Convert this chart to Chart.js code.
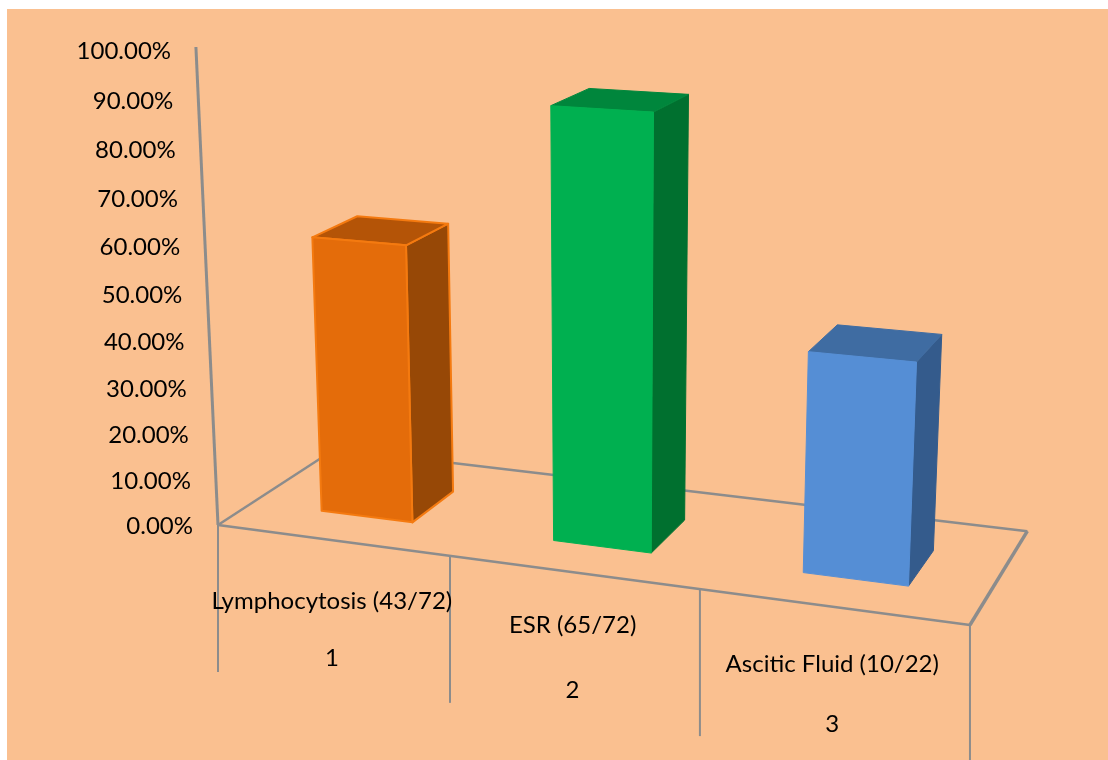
<!DOCTYPE html>
<html>
<head>
<meta charset="utf-8">
<title>Chart</title>
<script src="https://cdn.jsdelivr.net/npm/chart.js@4"></script>
<style>
  html, body { margin: 0; padding: 0; background: #fff; overflow: hidden; }
  #panel { position: absolute; left: 7px; top: 9px; right: 0; bottom: 0; background: #FAC090; }
  #wrap { position: absolute; left: 0; top: 0; width: 1108px; height: 760px; }
</style>
</head>
<body>
<div id="panel"></div>
<div id="wrap"><canvas id="chart"></canvas></div>
<script>
// ===== Data =====
const categories = ['Lymphocytosis (43/72)', 'ESR (65/72)', 'Ascitic Fluid (10/22)'];
const groupNumbers = ['1', '2', '3'];
const percentValues = [59.72, 90.28, 45.45];
const tickLabels = ['0.00%', '10.00%', '20.00%', '30.00%', '40.00%', '50.00%', '60.00%', '70.00%', '80.00%', '90.00%', '100.00%'];

const frontColors = ['#E46C0A', '#00B050', '#558ED5'];
const edgeColors = ['#F47A10', null, null];   // only the orange box has a visible outline
const topColors = ['#B45407', '#00863C', '#3F6CA2'];
const sideColors = ['#974806', '#00702F', '#345B8C'];

// ===== Perspective =====
// u runs along the categories, v into the floor, h up the value axis (all 0..1)
function project(u, v, h) {
  const w = 1 - 0.1077 * u + 0.095 * v - 0.0533 * h;
  return {
    x: (218 + 647.5 * u + 148.8 * v - 32.4 * h) / w,
    y: (525 + 32.7 * u - 33.3 * v - 477.7 * h) / w
  };
}

const BAR_FRONT = 0.285, BAR_BACK = 0.67;  // bar depth on the floor
const BAR_SHIFT = 0.0025;                  // boxes sit a touch right of the category centre
const DIVIDER_DROP = 147;                  // how far the category dividers hang down
const LABEL_DROP = [61, 53, 58];
const NUMBER_DROP = 118;
const FONT = '"Lato", "Open Sans", sans-serif';
const GREY = '#8C8C8C';

function quad(ctx, pts, fill, stroke) {
  ctx.beginPath();
  pts.forEach((p, i) => i ? ctx.lineTo(p.x, p.y) : ctx.moveTo(p.x, p.y));
  ctx.closePath();
  ctx.fillStyle = fill;
  ctx.fill();
  ctx.lineWidth = stroke ? 2 : 1;
  ctx.strokeStyle = stroke || fill;
  ctx.stroke();
}

function line(ctx, a, b, width) {
  ctx.beginPath();
  ctx.moveTo(a.x, a.y);
  ctx.lineTo(b.x, b.y);
  ctx.lineWidth = width;
  ctx.strokeStyle = GREY;
  ctx.stroke();
}

// ===== Plugin: floor, axes and 3D boxes =====
const perspectivePlugin = {
  id: 'perspective',

  beforeDatasetsDraw(chart) {
    const ctx = chart.ctx;
    ctx.save();
    // floor outline
    line(ctx, project(0, 0, 0), project(1, 0, 0), 2.5);
    line(ctx, project(1, 0, 0), project(1, 1, 0), 3.5);
    line(ctx, project(1, 1, 0), project(0, 1, 0), 2.5);
    line(ctx, project(0, 1, 0), project(0, 0, 0), 2.5);
    // value axis
    line(ctx, project(0, 0, 0), project(0, 0, 1.006), 3);
    // dividers between the categories
    for (let i = 0; i <= categories.length; i++) {
      const p = project(i / categories.length, 0, 0);
      line(ctx, p, { x: p.x, y: p.y + DIVIDER_DROP }, 2);
    }
    ctx.restore();
  },

  // the flat bars are replaced by boxes built from the same elements
  beforeDatasetDraw(chart, args) {
    const ctx = chart.ctx;
    const area = chart.chartArea;
    const toU = px => (px - area.left) / area.width + BAR_SHIFT;
    const toH = py => (area.bottom - py) / area.height;
    ctx.save();
    ctx.lineJoin = 'round';
    args.meta.data.forEach((bar, i) => {
      const left = toU(bar.x - bar.width / 2);
      const right = toU(bar.x + bar.width / 2);
      const top = toH(bar.y);
      const base = toH(bar.base);
      quad(ctx, [project(right, BAR_FRONT, top), project(right, BAR_BACK, top),
                 project(right, BAR_BACK, base), project(right, BAR_FRONT, base)], sideColors[i], edgeColors[i]);
      quad(ctx, [project(left, BAR_FRONT, top), project(left, BAR_BACK, top),
                 project(right, BAR_BACK, top), project(right, BAR_FRONT, top)], topColors[i], edgeColors[i]);
      quad(ctx, [project(left, BAR_FRONT, top), project(right, BAR_FRONT, top),
                 project(right, BAR_FRONT, base), project(left, BAR_FRONT, base)], bar.options.backgroundColor, edgeColors[i]);
    });
    ctx.restore();
    return false;
  },

  afterDraw(chart) {
    const ctx = chart.ctx;
    const area = chart.chartArea;
    const xScale = chart.scales.x;
    const yScale = chart.scales.y;
    ctx.save();
    ctx.fillStyle = '#000';
    ctx.font = '24px ' + FONT;

    // value labels follow the leaning axis
    ctx.textAlign = 'right';
    ctx.textBaseline = 'middle';
    yScale.ticks.forEach(tick => {
      const h = (area.bottom - yScale.getPixelForValue(tick.value)) / area.height;
      const p = project(0, 0, h);
      ctx.fillText(tick.label, p.x - 25, p.y + 1);
    });

    // category labels and their numbers
    ctx.textAlign = 'center';
    categories.forEach((name, i) => {
      const u = (xScale.getPixelForValue(i) - area.left) / area.width;
      const p = project(u, 0, 0);
      ctx.fillText(xScale.getLabelForValue(i), p.x, p.y + LABEL_DROP[i]);
      ctx.fillText(groupNumbers[i], p.x, p.y + NUMBER_DROP);
    });
    ctx.restore();
  }
};

// ===== Chart =====
new Chart(document.getElementById('chart'), {
  type: 'bar',
  data: {
    labels: categories,
    datasets: [{
      data: percentValues,
      backgroundColor: frontColors,
      barPercentage: 0.4,
      categoryPercentage: 1
    }]
  },
  options: {
    responsive: true,
    maintainAspectRatio: false,
    animation: false,
    layout: { padding: 0 },
    plugins: {
      legend: { display: false },
      tooltip: { enabled: false }
    },
    scales: {
      x: { display: false },
      y: {
        display: false,
        min: 0,
        max: 100,
        ticks: { stepSize: 10, callback: (value, index) => tickLabels[index] }
      }
    }
  },
  plugins: [perspectivePlugin]
});
</script>
</body>
</html>
